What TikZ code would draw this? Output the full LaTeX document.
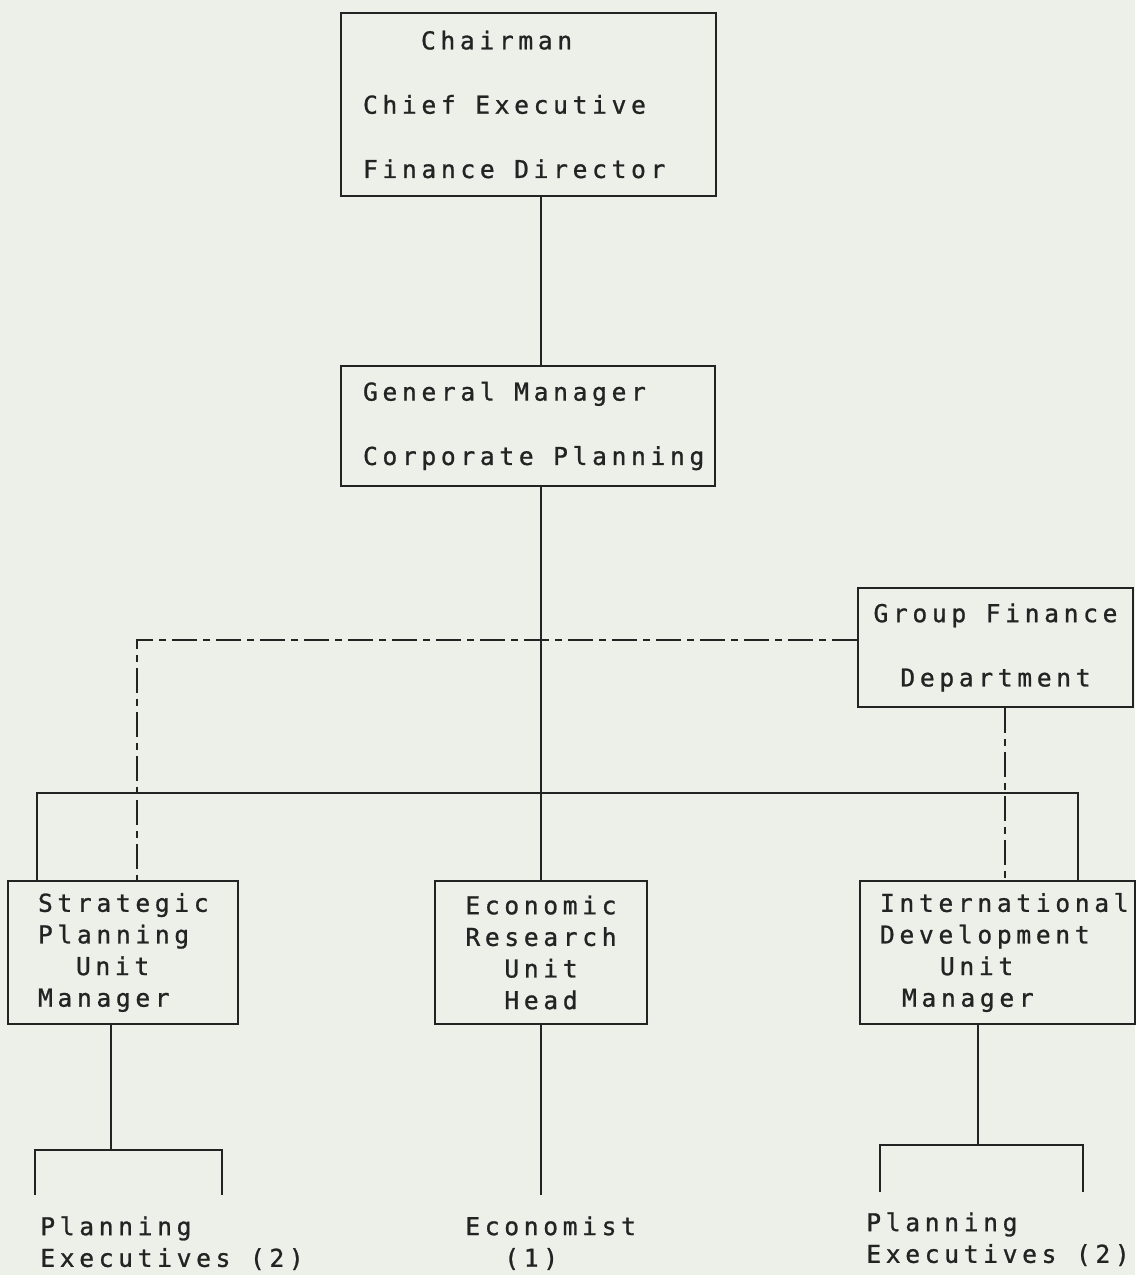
\documentclass[tikz,border=0pt]{standalone}
\usepackage{fontspec}
\newfontfamily\plotfont[LetterSpace=19,FakeBold=1]{DejaVu Sans Mono}
\usepackage{tikz}
\newcommand{\esp}{\hspace*{11.1pt}}
\definecolor{papel}{RGB}{237,239,233}
\definecolor{tinta}{RGB}{35,35,35}
\tikzset{
  caja/.style     = {draw=tinta, line width=1pt, text=tinta, inner ysep=0pt},
  alta/.style     = {caja, font={\plotfont\fontsize{14}{36.6}\selectfont}},
  baja/.style     = {caja, font={\plotfont\fontsize{14}{18}\selectfont}, minimum height=2.86cm},
  etiqueta/.style = {text=tinta, inner sep=0pt, align=left, anchor=north west,
                     font={\plotfont\fontsize{14}{18}\selectfont}},
  linea/.style    = {draw=tinta, line width=1pt},
  punteada/.style = {linea, dash pattern=on 0.5cm off 0.12cm on 0.14cm off 0.12cm}
}

\begin{document}
\begin{tikzpicture}[x=0.02cm, y=-0.02cm]
    \fill[papel] (0,0) rectangle (1135,1275);

    % upper boxes
    \node[alta, align=left, text width=6.62cm, inner xsep=0.44cm, minimum height=3.66cm] (dir) at (528.5,104.5) {\hspace{1.16cm}Chairman\\\mbox{Chief\esp Executive}\\\mbox{Finance\esp Director}};
    \node[alta, align=left, text width=6.6cm, inner xsep=0.44cm, minimum height=2.4cm] (gmcp) at (528,426) {\mbox{General\esp Manager}\\\mbox{Corporate\esp Planning}};
    \node[alta, align=center, text width=5.5cm, inner xsep=0pt, minimum height=2.38cm] (gfd) at (995.5,647.5) {\mbox{Group\esp Finance}\\Department};

    % unit boxes
    \node[baja, align=left, text width=3.4cm, inner xsep=0.6cm] (spu) at (123,952.5) {Strategic\\Planning\\\hspace{0.76cm}Unit\\Manager};
    \node[baja, align=center, text width=4.24cm, inner xsep=0pt] (eru) at (541,952.5) {Economic\\Research\\Unit\\Head};
    \node[baja, align=left, text width=4.7cm, inner xsep=0.4cm] (idu) at (997.5,952.5) {\mbox{International}\\Development\\\hspace{1.2cm}Unit\\\hspace{0.44cm}Manager};

    % staff
    \node[etiqueta] (pe1) at (40,1216) {Planning\\Executives\esp(2)};
    \node[etiqueta] (eco) at (465,1216) {Economist\\\hspace{0.78cm}(1)};
    \node[etiqueta] (pe2) at (866,1212) {Planning\\Executives\esp(2)};

    \coordinate (eje) at (541,793);
    \coordinate (barraI) at (37,793);
    \coordinate (barraD) at (1078,793);
    \coordinate (guiaI) at (137,640);
    \coordinate (guiaD) at (1005,640);

    \draw[linea] (dir.south -| eje) -- (gmcp.north -| eje);
    \draw[linea] (gmcp.south -| eje) -- (eru.north -| eje);
    \draw[linea] (spu.north -| barraI) -- (barraI) -- (barraD) -- (idu.north -| barraD);

    \draw[punteada] (gfd.west |- guiaI) -- (guiaI) -- (spu.north -| guiaI);
    \draw[punteada] (gfd.south -| guiaD) -- (idu.north -| guiaD);

    % lower branches
    \coordinate (ramaI) at (111,1150);
    \coordinate (pie1a) at (35,1195);
    \coordinate (pie1b) at (222,1195);
    \coordinate (pie0) at (541,1195);
    \coordinate (ramaD) at (978,1145);
    \coordinate (pie2a) at (880,1192);
    \coordinate (pie2b) at (1083,1192);

    \draw[linea] (spu.south -| ramaI) -- (ramaI);
    \draw[linea] (pie1a) |- (ramaI) -| (pie1b);
    \draw[linea] (eru.south -| pie0) -- (pie0);
    \draw[linea] (idu.south -| ramaD) -- (ramaD);
    \draw[linea] (pie2a) |- (ramaD) -| (pie2b);
\end{tikzpicture}
\end{document}
